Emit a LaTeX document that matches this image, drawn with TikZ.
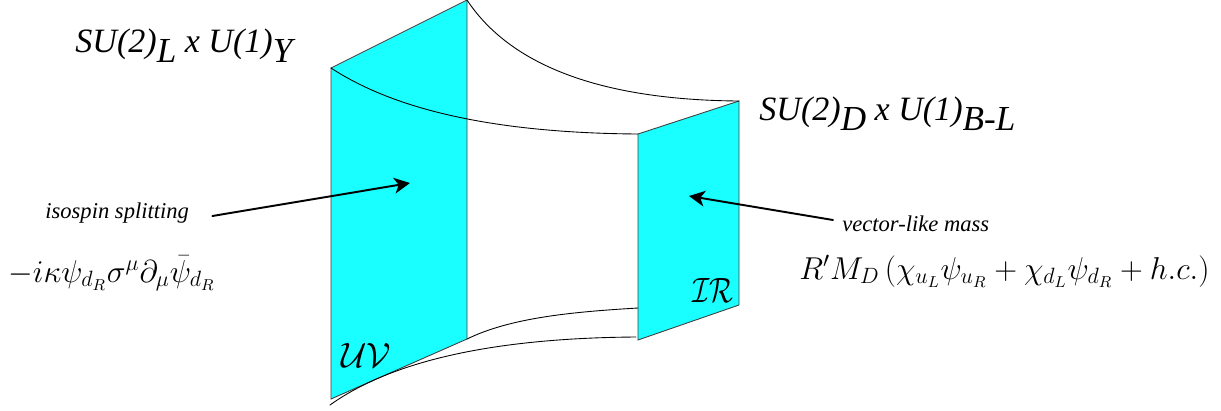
\documentclass[tikz,border=0pt]{standalone}
\usepackage{fix-cm}
\usepackage{amsmath,amssymb}
\usepackage{fontspec}
\setmainfont{Liberation Serif}
\usetikzlibrary{arrows.meta}

\newcommand{\lowsub}[1]{\raisebox{-6pt}{\fontsize{20}{20}\selectfont #1}}

\begin{document}
\begin{tikzpicture}[
    x=0.02cm, y=-0.02cm,
    >={Stealth[length=9pt,width=9pt,inset=2.5pt]},
    line cap=round,
    brane_edge/.style={draw=black!75, line width=0.5pt},
    bulk_edge/.style={draw=black, line width=0.5pt},
    pointer/.style={->, line width=1.1pt},
    group_label/.style={anchor=base west, inner sep=0pt, font=\fontsize{19.4}{20}\selectfont\itshape},
    note_label/.style={anchor=base west, inner sep=0pt, font=\fontsize{12.85}{14}\selectfont\itshape},
    mass_label/.style={anchor=base west, inner sep=0pt, font=\fontsize{18}{18}\selectfont},
    brane_label/.style={anchor=base west, inner sep=0pt, font=\fontsize{20}{20}\selectfont}
]

% --- 1. SETTINGS & COLORS ---
\definecolor{brane_color}{RGB}{25,255,255}
\useasboundingbox (0,0) rectangle (1221,410);

% --- 2. BRANES ---
% UV brane
\fill[brane_color] (331,68) -- (467,0) -- (467,339) -- (331,399) -- cycle;
\draw[brane_edge] (331,68) -- (467,0) -- (467,339) -- (331,399) -- cycle;
% IR brane
\fill[brane_color] (638,134) -- (739,101) -- (739,305) -- (638,340) -- cycle;
\draw[brane_edge] (638,134) -- (739,101) -- (739,305) -- (638,340) -- cycle;

% --- 3. BULK CURVES ---
\draw[bulk_edge] (467,0) .. controls (510,65) and (600,100) .. (739,101);
\draw[bulk_edge] (331,68) .. controls (395,110) and (495,133) .. (638,134);
\draw[bulk_edge] (467,339) .. controls (510,318) and (570,312) .. (638,308);
\draw[bulk_edge] (330,405) .. controls (390,362) and (490,338) .. (636,337);

% --- 4. LABELS ---
\node[group_label] (su_left) at (75,52) {SU(2)\lowsub{L} x U(1)\lowsub{Y}};
\node[group_label] (su_right) at (759,120) {SU(2)\lowsub{D} x U(1)\lowsub{B-L}};
\node[note_label] (isospin) at (45,218) {isospin splitting};
\node[note_label] (vector) at (842,231) {vector-like mass};
\node[mass_label] (kinetic) at (8,282) {$-i\kappa\psi_{d_R}\sigma^\mu\partial_\mu\bar\psi_{d_R}$};
\node[mass_label] (mass) at (799,279) {$R'M_D\left(\chi_{u_L}\psi_{u_R}+\chi_{d_L}\psi_{d_R}+h.c.\right)$};
\node[brane_label] (uv) at (341,367) {$\mathcal{UV}$};
\node[brane_label] (ir) at (692,302) {\scalebox{0.8}[1]{$\mathcal{IR}$}};

% --- 5. POINTERS ---
\coordinate (uv_spot) at (410,183);
\coordinate (ir_spot) at (689,196);
\draw[pointer] ([shift={(23,-2)}]isospin.base east) -- (uv_spot);
\draw[pointer] ([shift={(-9,-11)}]vector.base west) -- (ir_spot);

\end{tikzpicture}
\end{document}
